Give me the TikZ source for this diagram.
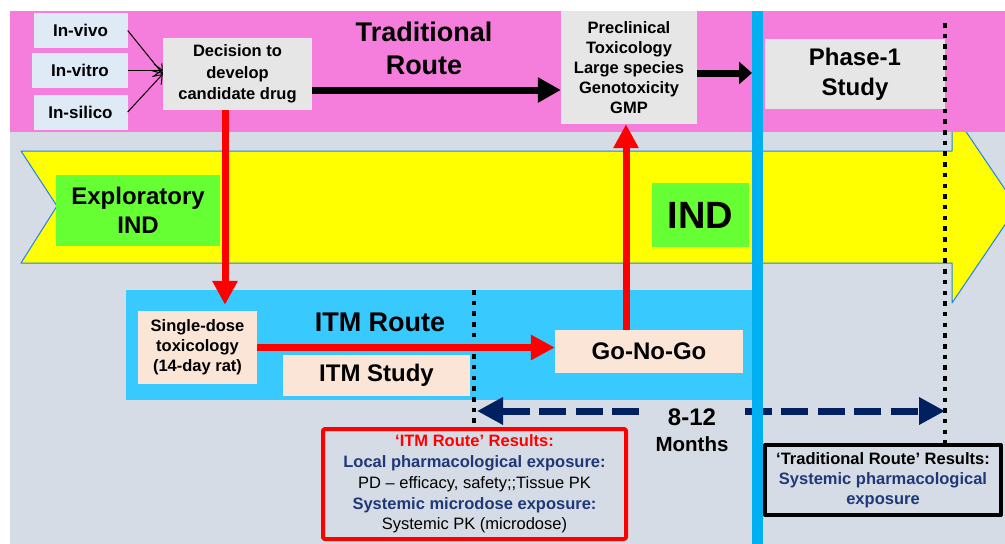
\documentclass[tikz,border=0pt]{standalone}
\usepackage{fontspec}
\setmainfont{Liberation Sans}
\usetikzlibrary{arrows.meta}

\definecolor{bandpink}{RGB}{245,126,220}
\definecolor{panelgray}{RGB}{214,220,229}
\definecolor{bandyellow}{RGB}{255,255,0}
\definecolor{bandedge}{RGB}{30,130,240}
\definecolor{indgreen}{RGB}{102,255,51}
\definecolor{sourceblue}{RGB}{222,235,247}
\definecolor{stepgray}{RGB}{230,230,230}
\definecolor{itmpeach}{RGB}{251,229,214}
\definecolor{itmcyan}{RGB}{56,202,255}
\definecolor{dividerblue}{RGB}{0,176,240}
\definecolor{routered}{RGB}{255,0,0}
\definecolor{spannavy}{RGB}{0,32,96}
\definecolor{textnavy}{RGB}{31,56,120}

\begin{document}
\begin{tikzpicture}[x=1pt,y=-1pt,line join=round,
    plainbox/.style={inner sep=0pt,align=center},
    sourcebox/.style={plainbox,fill=sourceblue,minimum width=94pt,minimum height=35pt,
        font=\fontsize{17}{20}\selectfont\bfseries},
    stepbox/.style={plainbox,fill=stepgray,font=\fontsize{16.5}{21.5}\selectfont\bfseries},
    indbox/.style={plainbox,fill=indgreen,font=\fontsize{24}{29}\selectfont\bfseries},
    peachbox/.style={plainbox,fill=itmpeach,font=\fontsize{16.5}{20}\selectfont\bfseries},
    titletext/.style={plainbox,font=\fontsize{27}{33}\selectfont\bfseries},
    resultbox/.style={plainbox,line width=4pt,rounded corners=2pt,
        font=\fontsize{16.5}{20.8}\selectfont\bfseries},
    feed/.style={-{Straight Barb[length=8pt,width=12pt]},line width=1pt},
    tradarrow/.style={-{Triangle[length=23pt,width=24pt]},line width=7pt},
    itmarrow/.style={routered,-{Triangle[length=24pt,width=24pt]},line width=7pt},
    spanarrow/.style={spannavy,-{Triangle[length=26pt,width=26pt]},line width=7pt,
        dash pattern=on 27pt off 9.5pt},
    marker/.style={line width=4.5pt,dash pattern=on 4.5pt off 6.2pt}]

    \fill[white] (0,0) rectangle (1005,544);
    \clip (0,0) rectangle (1005,544);
    \fill[panelgray] (10,11) rectangle (1005,544);
    \filldraw[fill=bandyellow,draw=bandedge,line width=1pt]
        (21,151) -- (952,151) -- (952,111) -- (1017,207) -- (952,303)
        -- (952,263) -- (21,263) -- (57,206) -- cycle;
    \fill[bandpink] (10,11) rectangle (1005,132);
    \fill[itmcyan] (126,290) rectangle (752,400);

    \coordinate (dividertop) at (757.5,11);
    \coordinate (dividerbottom) at (757.5,544);
    \coordinate (itmmark) at (474,290);
    \coordinate (tradmark) at (945,23);
    \coordinate (spanleft) at (477,411);
    \coordinate (spanright) at (945,411);

    \node[sourcebox] (invivo) at (80.5,30.5) {In-vivo};
    \node[sourcebox,minimum width=96pt] (invitro) at (80,70) {In-vitro};
    \node[sourcebox] (insilico) at (80.5,112) {In-silico};
    \node[stepbox,minimum width=149pt,minimum height=72pt] (decision) at (237.5,74)
        {Decision to\\develop\\candidate drug};
    \node[titletext] (tradroute) at (424,48) {Traditional\\Route};
    \node[stepbox,minimum width=136pt,minimum height=113pt,
        font=\fontsize{16.5}{20}\selectfont\bfseries] (preclin) at (629,67.5)
        {Preclinical\\Toxicology\\Large species\\Genotoxicity\\GMP};
    \node[stepbox,minimum width=180pt,minimum height=70pt,
        font=\fontsize{24}{30}\selectfont\bfseries] (phase1) at (855,74) {Phase-1\\Study};

    \node[indbox,minimum width=164pt,minimum height=71pt] (explind) at (138,210.5)
        {Exploratory\\IND};
    \node[indbox,minimum width=97pt,minimum height=64pt,
        font=\fontsize{38}{40}\selectfont\bfseries] (ind) at (700.5,215) {IND};

    \node[peachbox,minimum width=119pt,minimum height=73pt] (singledose) at (197.5,347.5)
        {Single-dose\\toxicology\\(14-day rat)};
    \node[titletext] (itmroute) at (380,322) {ITM Route};
    \node[peachbox,minimum width=187pt,minimum height=41pt,
        font=\fontsize{24}{28}\selectfont\bfseries] (itmstudy) at (376.5,375.5) {ITM Study};
    \node[peachbox,minimum width=188pt,minimum height=43pt,
        font=\fontsize{24}{28}\selectfont\bfseries] (gonogo) at (649,351.5) {Go-No-Go};

    \node[plainbox,inner xsep=16pt,font=\fontsize{24}{26}\selectfont\bfseries] (months)
        at (692,430) {8-12\\{\fontsize{20.5}{24}\selectfont Months}};

    \node[resultbox,draw=routered,minimum width=303pt,minimum height=110pt]
        (itmresults) at (474.5,484)
        {{\color{routered}`ITM Route' Results:}\\
         {\color{textnavy}Local pharmacological exposure:}\\
         {\mdseries PD -- efficacy, safety;;Tissue PK}\\
         {\color{textnavy}Systemic microdose exposure:}\\
         {\mdseries Systemic PK (microdose)}};
    \node[resultbox,draw=black,rounded corners=0pt,minimum width=236pt,minimum height=70pt,
        font=\fontsize{16.5}{20}\selectfont\bfseries] (tradresults) at (883,480)
        {`Traditional Route' Results:\\
         {\color{textnavy}Systemic pharmacological}\\
         {\color{textnavy}exposure}};

    \draw[marker] (itmmark) -- (itmmark |- itmresults.north);
    \draw[marker] (tradmark) -- (tradmark |- tradresults.north);

    \draw[feed] (invivo.east) -- (decision.west);
    \draw[feed] (invitro.east) -- (invitro.east -| decision.west);
    \draw[feed] (insilico.east) -- (decision.west);
    \draw[tradarrow] ([yshift=-16pt]decision.east) -- ([yshift=-16pt]decision.east -| preclin.west);
    \draw[tradarrow,-{Triangle[length=13pt,width=22pt]},shorten >=5.5pt]
        ([yshift=-5.5pt]preclin.east) -- ([yshift=-5.5pt]preclin.east -| dividertop);

    \draw[itmarrow,shorten >=6pt] ([xshift=-12.5pt]decision.south)
        -- ([xshift=-12.5pt]decision.south |- singledose.north);
    \draw[itmarrow] (singledose.east) -- (singledose.east -| gonogo.west);
    \draw[itmarrow] ([xshift=-3pt]preclin.south |- gonogo.north) -- ([xshift=-3pt]preclin.south);

    \draw[spanarrow] (months.west |- spanleft) -- (spanleft);
    \draw[spanarrow] (months.east |- spanright) -- (spanright);

    \draw[dividerblue,line width=11pt] (dividertop) -- (dividerbottom);
\end{tikzpicture}
\end{document}
